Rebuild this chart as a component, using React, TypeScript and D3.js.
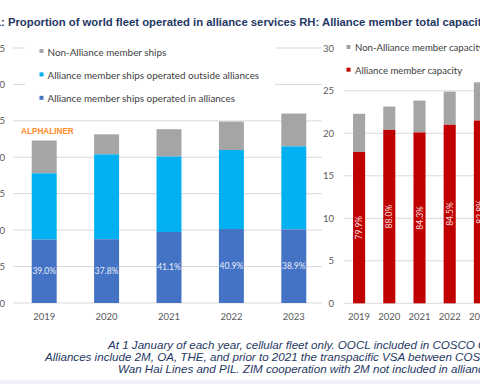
import React from 'react';
import * as d3 from 'd3';

const years = ['2019', '2020', '2021', '2022', '2023'];
// million TEU
const inAlliances = [8.7, 8.75, 9.75, 10.15, 10.1];
const allianceMembers = [17.8, 20.4, 20.1, 21.0, 21.5];
const totalFleet = [22.3, 23.15, 23.85, 24.9, 26.0];
const inAlliancePct = ['39.0%', '37.8%', '41.1%', '40.9%', '38.9%'];
const memberPct = ['79.9%', '88.0%', '84.3%', '84.5%', '82.8%'];
const leftTicks = [0, 5, 10, 15, 20, 25, 30, 35];
const rightTicks = [0, 5, 10, 15, 20, 25, 30];

const leftLegend = [
  { label: 'Non-Alliance member ships', color: '#a5a5a5' },
  { label: 'Alliance member ships operated outside alliances', color: '#00b0f0' },
  { label: 'Alliance member ships operated in alliances', color: '#4472c4' },
];
const rightLegend = [
  { label: 'Non-Alliance member capacity', color: '#a5a5a5' },
  { label: 'Alliance member capacity', color: '#c00000' },
];
const footnote = [
  'At 1 January of each year, cellular fleet only. OOCL included in COSCO Group.',
  'Alliances include 2M, OA, THE, and prior to 2021 the transpacific VSA between COSCO, Evergreen,',
  'Wan Hai Lines and PIL. ZIM cooperation with 2M not included in alliances.',
];

const font = 'Lato, "Open Sans", sans-serif';
const grey = '#a5a5a5';
const gridColor = '#d9d9d9';

const App = () => {
  const width = 480;
  const height = 384;

  const xL = d3.scaleBand().domain(years).range([13, 325]).paddingInner(0.6).paddingOuter(0.3);
  const yL = d3.scaleLinear().domain([0, 35]).range([303, 48]);
  const xR = d3.scaleBand().domain(years).range([344, 495]).paddingInner(0.6).paddingOuter(0.3);
  const yR = d3.scaleLinear().domain([0, 30]).range([303.3, 48.3]);

  return (
    <svg
      width={width}
      height={height}
      style={{ position: 'absolute', left: 0, top: 0, background: '#fff' }}
    >
      <rect x={0} y={380} width={width} height={4} fill="#eef2f7" />

      {/* title */}
      <text x={1} y={25.5} fontFamily="Arial, 'Liberation Sans', sans-serif" fontWeight="bold" fontSize={11.3} fill="#1f3864" textAnchor="end">
        Figure 1
      </text>
      <text x={1} y={25.5} fontFamily="Arial, 'Liberation Sans', sans-serif" fontWeight="bold" fontSize={11.3} fill="#1f3864">
        : Proportion of world fleet operated in alliance services RH: Alliance member total capacity
      </text>

      {/* left chart */}
      {leftTicks.map((t) => (
        <g key={'lg' + t}>
          <line x1={xL.range()[0]} x2={xL.range()[1] - 3} y1={yL(t)} y2={yL(t)} stroke={gridColor} strokeWidth={1} />
          <text x={5} y={yL(t) + 3.5} textAnchor="end" fontFamily={font} fontSize={9.5} fill="#595959">
            {t}
          </text>
        </g>
      ))}
      {years.map((yr, i) => {
        const x = xL(yr)!;
        const w = xL.bandwidth();
        return (
          <g key={'lb' + yr}>
            <rect x={x} y={yL(totalFleet[i])} width={w} height={yL(allianceMembers[i]) - yL(totalFleet[i])} fill={grey} />
            <rect x={x} y={yL(allianceMembers[i])} width={w} height={yL(inAlliances[i]) - yL(allianceMembers[i])} fill="#00b0f0" />
            <rect x={x} y={yL(inAlliances[i])} width={w} height={yL(0) - yL(inAlliances[i])} fill="#4472c4" />
            <text x={x + w / 2} y={(yL(0) + yL(inAlliances[i])) / 2 + 3} textAnchor="middle" fontFamily={font} fontSize={8.5} fill="#e8eefa">
              {inAlliancePct[i]}
            </text>
            <text x={x + w / 2} y={320} textAnchor="middle" fontFamily={font} fontSize={9.5} fill="#595959">
              {yr}
            </text>
          </g>
        );
      })}
      <rect x={25} y={36} width={250} height={72} fill="#fff" />
      {leftLegend.map((d, i) => (
        <g key={'ll' + i}>
          <rect x={39.5} y={49 + i * 23.4} width={4} height={4} fill={d.color} />
          <text x={47.5} y={55.5 + i * 23.4} fontFamily={font} fontSize={9.9} fill="#404040">
            {d.label}
          </text>
        </g>
      ))}
      <text x={21} y={133.5} fontFamily="Arial, 'Liberation Sans', sans-serif" fontWeight="bold" fontSize={8.2} fill="#ff8c28">
        ALPHALINER
      </text>

      {/* right chart */}
      {rightTicks.map((t) => (
        <g key={'rg' + t}>
          {t !== 30 && (
            <line x1={xR.range()[0]} x2={width} y1={yR(t)} y2={yR(t)} stroke={gridColor} strokeWidth={1} />
          )}
          <text x={334} y={yR(t) + 3.5} textAnchor="end" fontFamily={font} fontSize={9.5} fill="#595959">
            {t}
          </text>
        </g>
      ))}
      {years.map((yr, i) => {
        const x = xR(yr)!;
        const w = xR.bandwidth();
        const cy = (yR(0) + yR(allianceMembers[i])) / 2;
        return (
          <g key={'rb' + yr}>
            <rect x={x} y={yR(totalFleet[i])} width={w} height={yR(allianceMembers[i]) - yR(totalFleet[i])} fill={grey} />
            <rect x={x} y={yR(allianceMembers[i])} width={w} height={yR(0) - yR(allianceMembers[i])} fill="#c00000" />
            <text
              transform={`translate(${x + w / 2 + 3},${cy}) rotate(-90)`}
              textAnchor="middle"
              fontFamily={font}
              fontSize={8.5}
              fill="#f6dede"
            >
              {memberPct[i]}
            </text>
            <text x={x + w / 2} y={320} textAnchor="middle" fontFamily={font} fontSize={9.5} fill="#595959">
              {yr}
            </text>
          </g>
        );
      })}
      {rightLegend.map((d, i) => (
        <g key={'rl' + i}>
          <rect x={346.5} y={45 + i * 22.7} width={4} height={4} fill={d.color} />
          <text x={355} y={51 + i * 22.7} fontFamily={font} fontSize={9.6} fill="#404040">
            {d.label}
          </text>
        </g>
      ))}

      {/* footnote */}
      {footnote.map((line, i) => (
        <text
          key={'fn' + i}
          x={[108, 45, 118][i]}
          y={349 + i * 12}
          fontFamily="Arial, 'Liberation Sans', sans-serif"
          fontStyle="italic"
          fontSize={11.6}
          fill="#1f3864"
        >
          {line}
        </text>
      ))}
    </svg>
  );
};

export default App;
